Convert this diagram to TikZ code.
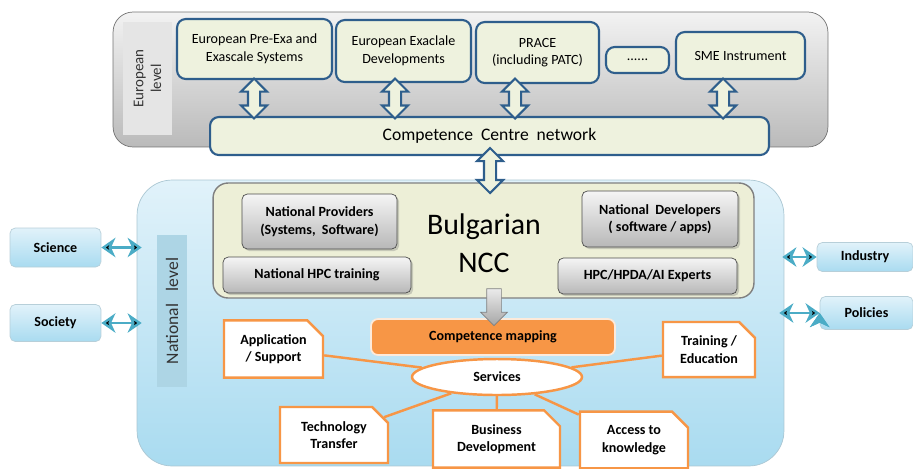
\documentclass[tikz,border=0pt]{standalone}
\usepackage{fontspec}
\setmainfont{Carlito}
\usetikzlibrary{
  arrows.meta, % for the Stealth tips on the side links
  calc, % to put the block arrows half way between two boxes
  shapes.arrows, % for the block arrows
  shapes.geometric, % for the services ellipse
  shapes.misc, % for the boxes with a cut corner
  shadows, % for the shadows under the grey boxes
}
\definecolor{eublue}{HTML}{2E5E8C}
\definecolor{cream}{HTML}{EEF2DE}
\definecolor{nccfill}{HTML}{EDEFD7}
\definecolor{svorange}{HTML}{F79646}
\definecolor{linkteal}{HTML}{4BACC6}
\definecolor{skytop}{HTML}{E1F2FA}
\definecolor{skybot}{HTML}{A9DBF0}
\definecolor{bandblue}{HTML}{ADD5E5}
\tikzset{
  eupanel/.style={ % grey panel of the European level
    rectangle,draw=black!55,
    top color=black!5,bottom color=black!27,
    rounded corners=0.4cm,
  },
  natpanel/.style={ % blue panel of the national level
    rectangle,draw=skybot!80!black!70,
    top color=skytop,bottom color=skybot,
    rounded corners=0.7cm,
  },
  band/.style={ % vertical band holding the level name
    rectangle,rotate=90,align=center,
    inner sep=0pt,text=black!80,
  },
  topbox/.style={ % European partners
    rectangle,draw=eublue,line width=1.2pt,
    fill=cream,rounded corners=5pt,
    align=center,inner sep=2pt,
    font=\fontsize{8}{10}\selectfont,
  },
  updown/.style={ % hollow double block arrow
    double arrow,rotate=90,
    draw=eublue,line width=1.2pt,fill=cream,
    inner sep=0.1cm, % half the shaft
    double arrow head extend=0.14cm,
    minimum height=0.8cm,
  },
  actor/.style={ % grey boxes inside the NCC
    rectangle,draw=black!70,
    top color=black!4,bottom color=black!28,
    rounded corners=3pt,align=center,
    font=\fontsize{8}{10}\selectfont\bfseries,
    drop shadow={opacity=0.35,shadow xshift=1.2pt,shadow yshift=-1.2pt},
  },
  hub/.style={ % services ellipse
    ellipse,draw=svorange,line width=1.4pt,fill=white,
    font=\fontsize{8}{10}\selectfont\bfseries,
  },
  service/.style={ % white boxes round the services
    chamfered rectangle,chamfered rectangle corners=north east,
    chamfered rectangle xsep=4.5pt,chamfered rectangle ysep=4.5pt,
    draw=svorange,line width=1.4pt,fill=white,
    align=center,
    font=\fontsize{8}{10}\selectfont\bfseries,
  },
  spoke/.style={ % lines from the services ellipse
    draw=svorange,line width=1.4pt,
  },
  sidebox/.style={ % science, society, industry, policies
    rectangle,draw=skybot!80!black!60,
    top color=skytop,bottom color=skybot,
    rounded corners=3pt,
    font=\fontsize{8}{10}\selectfont\bfseries,
  },
  sidelink/.style={ % teal two-way arrows
    {Stealth[length=8pt,width=11pt,inset=2.5pt]}-{Stealth[length=8pt,width=11pt,inset=2.5pt]},
    draw=linkteal,line width=1.6pt,
  },
}
\begin{document}
\begin{tikzpicture}[x=0.02cm,y=-0.02cm]
	\useasboundingbox (0,0) rectangle (913,468);
	
	% European level
	\node[eupanel,minimum width=14.3cm,minimum height=2.7cm] (eu) at (470.5,79.5) {};
	
	\node[band,fill=black!10,minimum width=2.26cm,minimum height=0.98cm,
		font=\fontsize{8.5}{10}\selectfont] (eulevel) at (147.5,78.5) {European\\level};
	
	\node[topbox,minimum width=3.1cm,minimum height=1.2cm] (pre) at (254.5,49) {European Pre-Exa and\\Exascale Systems};
	
	\node[topbox,minimum width=2.7cm,minimum height=1.24cm] (exa) at (403.5,51) {European Exaclale\\Developments};
	
	\node[topbox,minimum width=2.46cm,minimum height=1.22cm] (prace) at (537.5,52.5) {PRACE\\(including PATC)};
	
	\node[topbox,minimum width=1.26cm,minimum height=0.52cm] (more) at (637.5,60) {......};
	
	\node[topbox,minimum width=2.58cm,minimum height=0.94cm] (sme) at (740.5,55.5) {SME Instrument};
	
	\node[topbox,minimum width=11.18cm,minimum height=0.76cm,
		font=\fontsize{10}{12}\selectfont] (ccn) at (489.5,136) {Competence\ \ Centre\ \ network};
	
	\foreach \src/\x in {pre/254,exa/395,prace/515,sme/723}
		\node[updown] (\src-ccn) at (\x,98.5) {};
	
	% national level
	\node[natpanel,minimum width=12.94cm,minimum height=5.72cm] (nat) at (460.5,323) {};
	
	\node[band,fill=bandblue,minimum width=3.04cm,minimum height=0.6cm,
		font=\fontsize{10}{12}\selectfont] (natlevel) at (172,311) {National\hspace{5pt} level};
	
	\node[rectangle,draw=black!50,line width=0.8pt,fill=nccfill,rounded corners=0.3cm,
		minimum width=10.82cm,minimum height=2.3cm] (ncc) at (483.5,240.5) {};
	
	\node[align=center,font=\fontsize{17}{21.5}\selectfont] (bncc) at (484,243) {Bulgarian\\NCC};
	
	\node[actor,minimum width=3.1cm,minimum height=1.1cm] (prov) at (319.5,221.5) {National Providers\\(Systems,\ \ Software)};
	
	\node[actor,minimum width=3.76cm,minimum height=0.72cm] (hpct) at (317,275) {National HPC training};
	
	\node[actor,minimum width=3.12cm,minimum height=1.12cm] (dev) at (660,219) {National\ \ Developers\\( software / apps)};
	
	\node[actor,minimum width=3.58cm,minimum height=0.72cm] (exp) at (647.5,276) {HPC/HPDA/AI Experts};
	
	\node[updown,minimum height=0.9cm] (ccn-ncc) at (490,170.5) {};
	
	\node[rectangle,draw=svorange!20,line width=1pt,fill=svorange,rounded corners=4pt,
		minimum width=4.88cm,minimum height=0.72cm,
		font=\fontsize{8}{10}\selectfont\bfseries] (map) at (493,337) {Competence mapping};
	
	\node[single arrow,rotate=-90,draw=black!50,top color=black!8,bottom color=black!35,
		inner sep=0.14cm,single arrow head extend=0.12cm,minimum height=0.74cm] (ncc-map) at (494,303.5) {};
	
	\node[hub,minimum width=3.4cm,minimum height=0.72cm] (srv) at (497,377) {Services};
	
	\node[service,minimum width=1.98cm,minimum height=1cm] (app) at (273.5,349) {Application\\/ Support};
	
	\node[service,minimum width=1.84cm,minimum height=1.02cm] (edu) at (709,349.5) {Training /\\Education};
	
	\node[service,minimum width=2.16cm,minimum height=1.12cm] (tt) at (334,435) {Technology\\Transfer};
	
	\node[service,minimum width=2.54cm,minimum height=1.04cm] (bd) at (496.5,439) {Business\\Development};
	
	\node[service,minimum width=2.16cm,minimum height=1cm] (ak) at (634,440) {Access to\\knowledge};
	
	\path[spoke] (srv) edge (app)
			edge (edu)
			edge (tt)
			edge (bd)
			edge (ak);
	
	% outside the national level
	\node[sidebox,minimum width=1.82cm,minimum height=0.78cm] (sci) at (55.5,247.5) {Science};
	
	\node[sidebox,minimum width=1.82cm,minimum height=0.74cm] (soc) at (55.5,323) {Society};
	
	\node[sidebox,minimum width=1.92cm,minimum height=0.58cm] (ind) at (865,257) {Industry};
	
	\node[sidebox,minimum width=1.86cm,minimum height=0.66cm] (pol) at (866.5,313) {Policies};
	
	\coordinate (sci-end) at ([xshift=0.1cm]sci -| nat.west);
	\coordinate (soc-end) at ([xshift=0.1cm]soc -| nat.west);
	\coordinate (ind-end) at ([xshift=-0.04cm]ind -| nat.east);
	\coordinate (pol-end) at ([xshift=-0.1cm]pol -| nat.east);
	
	\path[sidelink] (sci.east) edge (sci-end)
			(soc.east) edge (soc-end)
			(ind.west) edge (ind-end)
			(pol.west) edge (pol-end);
\end{tikzpicture}
\end{document}
